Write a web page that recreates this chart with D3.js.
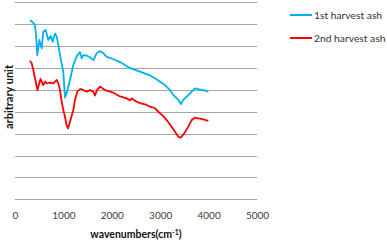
<!DOCTYPE html>
<html>
<head>
<meta charset="utf-8">
<script src="https://cdn.jsdelivr.net/npm/d3@7"></script>
<style>
body { margin: 0; background: #fff; }
text { font-family: Lato, "Open Sans", sans-serif; }
</style>
</head>
<body>
<svg id="chart" width="387" height="245"></svg>
<script>
// wavenumber (cm-1) and arbitrary-unit readings
var firstX = [310,378,413,434,461,502,552,585,634,688,738,779,826,862,895,930,977,998,1033,1068,1101,1151,1205,1287,1343,1378,1411,1481,1550,1618,1688,1756,1824,1895,2025,2169,2335,2438,2583,2789,2893,2996,3099,3202,3271,3374,3430,3477,3548,3580,3616,3684,3719,3787,3890,3994];
var firstY = [81.8,80.7,79.2,75.1,65.9,72.8,69.0,76.6,77.3,72.8,74.6,72.0,75.8,74.3,70.5,65.9,60.6,58.2,46.5,48.6,51.4,56.0,61.4,65.9,67.2,64.4,65.9,65.7,64.8,63.6,66.7,67.7,66.8,65.1,64.1,62.7,60.4,59.5,58.3,56.6,55.3,53.7,52.2,49.9,47.6,45.4,43.5,45.4,46.9,47.6,48.4,49.9,50.7,50.3,49.9,49.2];
var secondX = [310,345,378,413,465,502,527,552,585,620,661,723,791,862,895,930,965,998,1033,1064,1095,1136,1205,1240,1287,1343,1378,1411,1481,1550,1618,1653,1694,1756,1860,1963,2031,2169,2308,2376,2411,2514,2583,2721,2789,2893,2996,3058,3134,3202,3306,3374,3430,3498,3580,3651,3719,3787,3890,3994];
var secondY = [63.3,62.1,59.1,55.3,49.9,53.0,55.0,53.7,52.2,53.7,52.9,53.3,53.0,54.5,53.0,49.9,44.6,40.8,37.7,34.0,32.4,35.4,40.8,45.4,49.2,50.3,50.3,49.9,49.2,49.9,49.2,47.4,49.9,51.5,49.9,49.2,48.7,47.0,46.1,45.2,46.1,44.6,43.9,43.1,42.3,41.6,39.3,38.1,36.2,34.2,30.9,28.6,28.2,30.2,33.2,36.2,37.3,37.0,36.5,35.8];
var seriesNames = ["1st harvest ash", "2nd harvest ash"];
var seriesColors = ["#00b0f0", "#ff0000"];
var xTicks = [0, 1000, 2000, 3000, 4000, 5000];
var yTicks = [0, 10, 20, 30, 40, 50, 60, 70, 80, 90];

var svg = d3.select("#chart");

var x = d3.scaleLinear().domain([0, 5000]).range([15, 257]);
var y = d3.scaleLinear().domain([0, 90]).range([199.3, 2.3]);

// horizontal grid
svg.append("g")
   .selectAll("line").data(yTicks).enter()
   .append("line")
   .attr("x1", x(0)).attr("x2", x(5000))
   .attr("y1", function(d) { return Math.round(y(d)) + 0.5; })
   .attr("y2", function(d) { return Math.round(y(d)) + 0.5; })
   .attr("stroke", "#a6a6a6")
   .attr("stroke-width", 1);

// x axis labels only, no axis line
var xAxis = d3.axisBottom(x).tickValues(xTicks).tickFormat(d3.format("d")).tickSize(0).tickPadding(0);
var gx = svg.append("g").attr("transform", "translate(0,212)").call(xAxis);
gx.select(".domain").remove();
gx.selectAll("text")
  .style("font-family", "Lato, sans-serif")
  .style("font-size", "10px")
  .attr("fill", "#404040");

svg.append("text")
   .attr("x", 136).attr("y", 238)
   .attr("text-anchor", "middle")
   .style("font-size", "10.5px").style("font-weight", "bold")
   .attr("fill", "#111")
   .text("wavenumbers(cm")
   .append("tspan").attr("dy", -3).style("font-size", "7px").text("-1")
   .select(function() { return this.parentNode; })
   .append("tspan").attr("dy", 3).text(")");

svg.append("text")
   .attr("transform", "translate(13,97) rotate(-90)")
   .attr("text-anchor", "middle")
   .style("font-size", "11px").style("font-weight", "bold")
   .attr("fill", "#111")
   .text("arbitrary unit");

var line = d3.line()
    .x(function(d) { return x(d[0]); })
    .y(function(d) { return y(d[1]); });

var series = [d3.zip(firstX, firstY), d3.zip(secondX, secondY)];

svg.append("g").selectAll("path").data(series).enter()
   .append("path")
   .attr("d", line)
   .attr("fill", "none")
   .attr("stroke", function(d, i) { return seriesColors[i]; })
   .attr("stroke-width", 1.8)
   .attr("stroke-linejoin", "round");

// legend
var legend = svg.append("g").selectAll("g").data(seriesNames).enter()
   .append("g")
   .attr("transform", function(d, i) { return "translate(290," + (15 + i * 23) + ")"; });
legend.append("line")
   .attr("x1", 0).attr("x2", 22)
   .attr("stroke", function(d, i) { return seriesColors[i]; })
   .attr("stroke-width", 2);
legend.append("text")
   .attr("x", 24).attr("dy", "0.35em")
   .style("font-size", "10.3px")
   .attr("fill", "#333")
   .text(function(d) { return d; });
</script>
</body>
</html>
